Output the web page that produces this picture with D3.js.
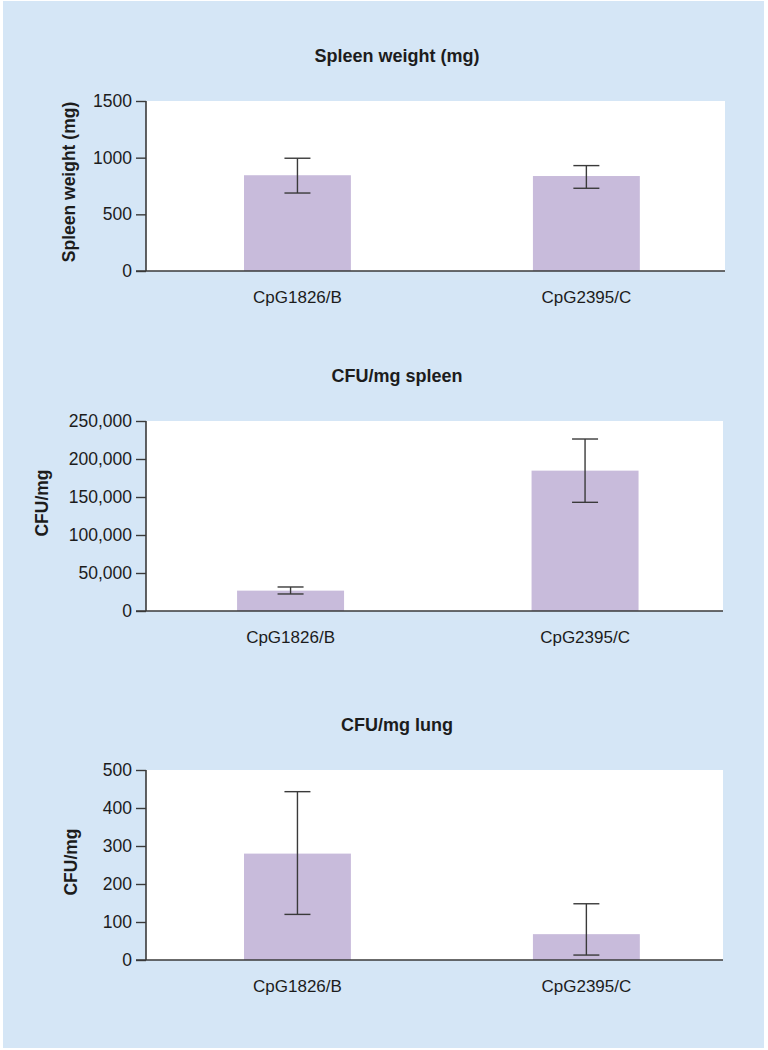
<!DOCTYPE html>
<html>
<head>
<meta charset="utf-8">
<script src="https://cdn.jsdelivr.net/npm/d3@7"></script>
<style>
  html, body { margin: 0; padding: 0; background: #ffffff; }
  svg { display: block; font-family: "Liberation Sans", Arial, sans-serif; }
</style>
</head>
<body>
<svg id="chart" width="768" height="1050"></svg>
<script>
// ---- data ----
const categories = ["CpG1826/B", "CpG2395/C"];

const spleenWeightMean = [845, 838];
const spleenWeightLow  = [688, 730];
const spleenWeightHigh = [995, 930];
const spleenWeightTicks = [0, 500, 1000, 1500];

const cfuSpleenMean = [26800, 184700];
const cfuSpleenLow  = [22400, 143000];
const cfuSpleenHigh = [31600, 226300];
const cfuSpleenTicks = [0, 50000, 100000, 150000, 200000, 250000];

const cfuLungMean = [280, 68];
const cfuLungLow  = [120, 13];
const cfuLungHigh = [443, 148];
const cfuLungTicks = [0, 100, 200, 300, 400, 500];

const panelTitles = ["Spleen weight (mg)", "CFU/mg spleen", "CFU/mg lung"];
const yAxisTitles = ["Spleen weight (mg)", "CFU/mg", "CFU/mg"];

// ---- layout ----
const svg = d3.select("#chart");
const BG = "#d5e6f6";
const BAR = "#c8bbdb";
const INK = "#1c1c1c";
const AXIS = "#3a3a3a";

svg.append("rect").attr("x", 3).attr("y", 1).attr("width", 761).attr("height", 1047).attr("fill", BG);

const panels = [
  { mean: spleenWeightMean, low: spleenWeightLow, high: spleenWeightHigh, ticks: spleenWeightTicks, fmt: d3.format("d"),
    top: 101, bottom: 271, right: 725, titleY: 62, ylx: 69, yly: 182, pi: 0.63, po: 0.317, al: 0.535 },
  { mean: cfuSpleenMean, low: cfuSpleenLow, high: cfuSpleenHigh, ticks: cfuSpleenTicks, fmt: d3.format(","),
    top: 421, bottom: 611, right: 723, titleY: 382, ylx: 42, yly: 503, pi: 0.6367, po: 0.3014, al: 0.513 },
  { mean: cfuLungMean, low: cfuLungLow, high: cfuLungHigh, ticks: cfuLungTicks, fmt: d3.format("d"),
    top: 770, bottom: 960, right: 723, titleY: 731, ylx: 71, yly: 862, pi: 0.63, po: 0.317, al: 0.535 }
];

const left = 146;

panels.forEach((p, i) => {
  const g = svg.append("g");
  const right = p.right;
  const x = d3.scaleBand().domain(categories).range([left, 725])
    .paddingInner(p.pi).paddingOuter(p.po).align(p.al);
  const ymax = p.ticks[p.ticks.length - 1];
  const y = d3.scaleLinear().domain([0, ymax]).range([p.bottom, p.top]);

  // plot background
  g.append("rect").attr("x", left).attr("y", p.top).attr("width", right - left).attr("height", p.bottom - p.top).attr("fill", "#ffffff");

  // bars
  g.selectAll("rect.bar").data(categories).enter().append("rect")
    .attr("class", "bar")
    .attr("x", d => x(d))
    .attr("width", x.bandwidth())
    .attr("y", (d, j) => y(p.mean[j]))
    .attr("height", (d, j) => y(0) - y(p.mean[j]))
    .attr("fill", BAR);

  // error bars
  const cap = 13;
  categories.forEach((c, j) => {
    const cx = x(c) + x.bandwidth() / 2;
    g.append("line").attr("x1", cx).attr("x2", cx).attr("y1", y(p.low[j])).attr("y2", y(p.high[j]))
      .attr("stroke", AXIS).attr("stroke-width", 1.4);
    [p.low[j], p.high[j]].forEach(v => {
      g.append("line").attr("x1", cx - cap).attr("x2", cx + cap).attr("y1", y(v)).attr("y2", y(v))
        .attr("stroke", AXIS).attr("stroke-width", 1.4);
    });
  });

  // y axis
  const ya = g.append("g").attr("transform", `translate(${left},0)`)
    .call(d3.axisLeft(y).tickValues(p.ticks).tickFormat(p.fmt).tickSize(10).tickPadding(4));
  ya.select(".domain").attr("stroke", AXIS).attr("stroke-width", 1.6).attr("d", `M0,${p.top}V${p.bottom}`);
  ya.selectAll(".tick line").attr("stroke", AXIS).attr("stroke-width", 1.4);
  ya.selectAll(".tick text").attr("fill", INK).attr("font-size", 17.5)
    .attr("font-family", "'Liberation Sans', Arial, sans-serif");

  // x axis
  const xa = g.append("g").attr("transform", `translate(0,${p.bottom})`)
    .call(d3.axisBottom(x).tickSize(0).tickPadding(0));
  xa.select(".domain").attr("stroke", AXIS).attr("stroke-width", 1.6).attr("d", `M${left - 10},0H${right}`);
  xa.selectAll(".tick text").attr("fill", INK).attr("font-size", 17)
    .attr("dy", null).attr("y", 32)
    .attr("font-family", "'Liberation Sans', Arial, sans-serif");

  // panel title
  svg.append("text").attr("x", 397).attr("y", p.titleY).attr("text-anchor", "middle")
    .attr("font-weight", "bold").attr("font-size", 18).attr("fill", INK).text(panelTitles[i]);

  // y axis title
  svg.append("text").attr("transform", `translate(${p.ylx},${p.yly}) rotate(-90)`)
    .attr("text-anchor", "middle").attr("dy", "0.35em")
    .attr("font-weight", "bold").attr("font-size", 17.5).attr("fill", INK).text(yAxisTitles[i]);
});
</script>
</body>
</html>
